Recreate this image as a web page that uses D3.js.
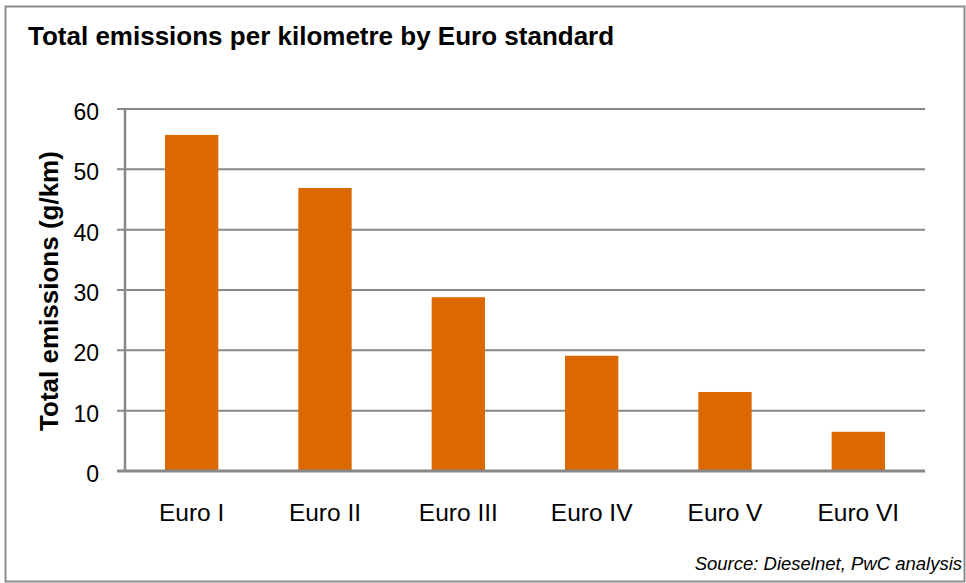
<!DOCTYPE html>
<html>
<head>
<meta charset="utf-8">
<script src="https://cdn.jsdelivr.net/npm/d3@7"></script>
<style>
  body { margin: 0; background: #fff; }
  svg { display: block; font-family: "Liberation Sans", Arial, sans-serif; }
</style>
</head>
<body>
<div id="chart"></div>
<script>
// values
const standards = ["Euro I", "Euro II", "Euro III", "Euro IV", "Euro V", "Euro VI"];
const emissions = [55.7, 46.9, 28.8, 19.1, 13.1, 6.5];
const yTicks = [0, 10, 20, 30, 40, 50, 60];

const width = 966, height = 583;
const plot = {left: 125, right: 925, top: 109, bottom: 471};

const svg = d3.select("#chart").append("svg")
  .attr("width", width)
  .attr("height", height);

// outer frame
svg.append("rect")
  .attr("x", 5.5).attr("y", 6.5)
  .attr("width", 959).attr("height", 575)
  .attr("fill", "#fff")
  .attr("stroke", "#8c8c8c")
  .attr("stroke-width", 2);

svg.append("text")
  .attr("x", 28).attr("y", 45)
  .attr("font-size", 26)
  .attr("font-weight", "bold")
  .attr("fill", "#000")
  .text("Total emissions per kilometre by Euro standard");

const x = d3.scaleBand()
  .domain(standards)
  .range([plot.left, plot.right])
  .paddingInner(0.6)
  .paddingOuter(0.3);

const y = d3.scaleLinear()
  .domain([0, 60])
  .range([plot.bottom, plot.top]);

// gridlines + tick marks
svg.append("g")
  .selectAll("line")
  .data(yTicks.filter(d => d > 0))
  .join("line")
    .attr("x1", plot.left - 8).attr("x2", plot.right)
    .attr("y1", d => y(d)).attr("y2", d => y(d))
    .attr("stroke", "#888")
    .attr("stroke-width", 2);

svg.append("g")
  .selectAll("text")
  .data(yTicks)
  .join("text")
    .attr("x", 99)
    .attr("y", d => y(d) + 11)
    .attr("text-anchor", "end")
    .attr("font-size", 23)
    .attr("fill", "#000")
    .text(d => d);

// bars
svg.append("g")
  .selectAll("rect")
  .data(standards)
  .join("rect")
    .attr("x", d => x(d))
    .attr("width", x.bandwidth())
    .attr("y", (d, i) => y(emissions[i]))
    .attr("height", (d, i) => y(0) - y(emissions[i]))
    .attr("fill", "#dc6900");

// axes lines
svg.append("line")
  .attr("x1", plot.left).attr("x2", plot.left)
  .attr("y1", plot.top).attr("y2", plot.bottom)
  .attr("stroke", "#888").attr("stroke-width", 2.5);
svg.append("line")
  .attr("x1", plot.left - 8).attr("x2", plot.right)
  .attr("y1", y(0)).attr("y2", y(0))
  .attr("stroke", "#888").attr("stroke-width", 3);

svg.append("g")
  .selectAll("text")
  .data(standards)
  .join("text")
    .attr("x", d => x(d) + x.bandwidth() / 2)
    .attr("y", 521)
    .attr("text-anchor", "middle")
    .attr("font-size", 24.5)
    .attr("fill", "#000")
    .text(d => d);

svg.append("text")
  .attr("transform", "translate(58,291) rotate(-90)")
  .attr("text-anchor", "middle")
  .attr("font-size", 26)
  .attr("font-weight", "bold")
  .attr("fill", "#000")
  .text("Total emissions (g/km)");

svg.append("text")
  .attr("x", 962).attr("y", 570)
  .attr("text-anchor", "end")
  .attr("font-size", 18.5)
  .attr("font-style", "italic")
  .attr("fill", "#000")
  .text("Source: Dieselnet, PwC analysis");
</script>
</body>
</html>
